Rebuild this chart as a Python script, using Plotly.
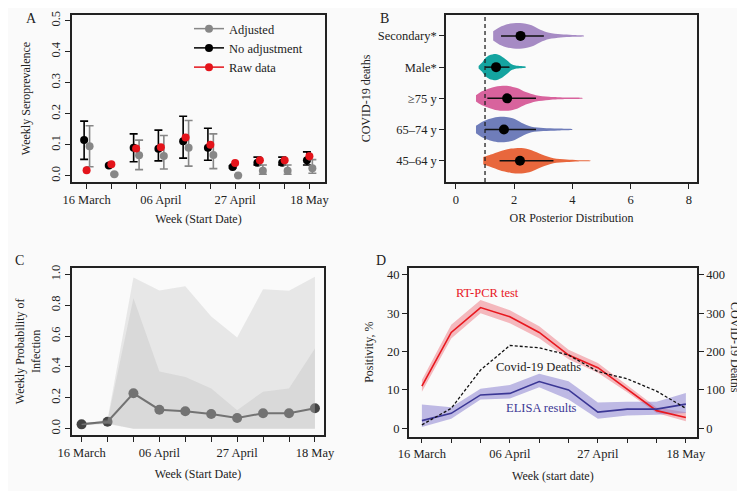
import plotly.graph_objects as go

# the page adds an 8 px body margin, so the figure is drawn 8 px smaller
PAD = 8
W, H = 745 - PAD, 491 - PAD
FONT = "Liberation Serif, Times New Roman, serif"
INK = "#222222"

# ---- panel A: weekly seroprevalence ----
weeks = list(range(10))
week_ticks = ["16 March", "", "", "06 April", "", "", "27 April", "", "", "18 May"]

noadj = [0.115, 0.033, 0.090, 0.087, 0.111, 0.090, 0.028, 0.042, 0.042, 0.050]
noadj_hi = [0.176, 0.036, 0.135, 0.147, 0.192, 0.153, 0.032, 0.060, 0.060, 0.077]
noadj_lo = [0.053, 0.030, 0.045, 0.048, 0.057, 0.050, 0.025, 0.035, 0.035, 0.035]

adj = [0.095, 0.005, 0.066, 0.064, 0.090, 0.067, 0.001, 0.016, 0.016, 0.024]
adj_hi = [0.161, 0.008, 0.115, 0.130, 0.178, 0.135, 0.003, 0.035, 0.035, 0.052]
adj_lo = [0.029, 0.003, 0.020, 0.022, 0.031, 0.023, 0.000, 0.005, 0.005, 0.008]

raw = [0.018, 0.037, 0.088, 0.092, 0.123, 0.100, 0.041, 0.050, 0.050, 0.063]

# ---- panel B: OR posterior distributions ----
groups = ["45–64 y", "65–74 y", "≥75 y", "Male*", "Secondary*"]
group_colors = ["#e8673d", "#6f7dba", "#d8639d", "#14a4a0", "#a68bc4"]
or_median = [2.20, 1.65, 1.76, 1.38, 2.22]
or_lo = [1.50, 1.00, 1.08, 1.00, 1.55]
or_hi = [3.35, 2.75, 2.75, 1.84, 3.02]
# density profiles (OR value, half width)
dens_x = [
    [0.94, 1.2, 1.5, 1.9, 2.25, 2.6, 2.95, 3.35, 3.8, 4.2, 4.62],
    [0.69, 0.85, 1.05, 1.3, 1.6, 1.95, 2.25, 2.6, 3.0, 3.5, 4.0],
    [0.69, 0.85, 1.05, 1.35, 1.75, 2.1, 2.4, 2.75, 3.2, 3.8, 4.35],
    [0.78, 0.9, 1.0, 1.15, 1.37, 1.55, 1.75, 1.9, 2.05, 2.4],
    [1.28, 1.5, 1.8, 2.2, 2.6, 2.9, 3.2, 3.6, 4.0, 4.4],
]
dens_w = [
    [0.12, 0.20, 0.30, 0.39, 0.41, 0.34, 0.20, 0.08, 0.04, 0.02, 0.008],
    [0.12, 0.22, 0.31, 0.38, 0.41, 0.36, 0.22, 0.09, 0.05, 0.03, 0.008],
    [0.10, 0.20, 0.28, 0.37, 0.40, 0.33, 0.20, 0.10, 0.05, 0.025, 0.008],
    [0.04, 0.15, 0.28, 0.38, 0.42, 0.36, 0.22, 0.10, 0.05, 0.012],
    [0.15, 0.28, 0.38, 0.41, 0.34, 0.20, 0.10, 0.05, 0.03, 0.008],
]

# ---- panel C: weekly probability of infection ----
prob = [0.028, 0.045, 0.229, 0.123, 0.113, 0.095, 0.069, 0.100, 0.100, 0.132]
outer_hi = [0.032, 0.060, 0.980, 0.895, 0.922, 0.726, 0.590, 0.903, 0.893, 0.985]
outer_lo = [0.022, 0.030, 0.0, 0.0, 0.0, 0.0, 0.0, 0.0, 0.0, 0.0]
inner_hi = [0.030, 0.050, 0.845, 0.370, 0.335, 0.260, 0.120, 0.240, 0.260, 0.520]
inner_lo = [0.024, 0.035, 0.0, 0.0, 0.0, 0.0, 0.0, 0.0, 0.0, 0.0]

# ---- panel D: positivity and deaths ----
pcr = [11.0, 25.0, 31.5, 29.1, 25.0, 19.1, 15.8, 10.2, 4.6, 2.8]
pcr_hi = [12.6, 27.0, 33.5, 30.8, 26.6, 20.5, 17.0, 11.1, 5.4, 4.2]
pcr_lo = [9.5, 23.4, 30.0, 27.4, 23.5, 18.0, 14.5, 9.4, 4.0, 1.8]
elisa = [2.0, 3.9, 8.7, 9.1, 12.2, 10.0, 4.2, 5.0, 5.0, 6.3]
elisa_hi = [6.2, 5.5, 10.3, 11.3, 14.2, 12.3, 6.7, 6.9, 6.9, 9.2]
elisa_lo = [0.3, 2.5, 7.5, 7.8, 10.7, 7.5, 2.5, 3.3, 3.5, 4.0]
deaths = [9, 52, 152, 216, 210, 191, 148, 129, 97, 52]


def px(x):
    return (x - PAD) / W


def py(y):
    return 1 - (y - PAD) / H


def dx(a, b):
    return [px(a), px(b)]


def dy(top, bottom):
    return [py(bottom), py(top)]


fig = go.Figure()

# A
for name, vals, hi, lo, col, off in [
    ("No adjustment", noadj, noadj_hi, noadj_lo, "#000000", -0.1),
    ("Adjusted", adj, adj_hi, adj_lo, "#878787", 0.12),
]:
    fig.add_trace(go.Scatter(
        x=[w + off for w in weeks], y=vals, mode="markers",
        marker=dict(color=col, size=8),
        error_y=dict(type="data", array=[h - v for h, v in zip(hi, vals)],
                     arrayminus=[v - l for v, l in zip(vals, lo)],
                     color=col, thickness=1.6, width=4),
        showlegend=False, xaxis="x", yaxis="y",
    ))
fig.add_trace(go.Scatter(x=weeks, y=raw, mode="markers",
                         marker=dict(color="#e4141b", size=8),
                         showlegend=False, xaxis="x", yaxis="y"))
for name, col, rank in [("Adjusted", "#878787", 1), ("No adjustment", "#000000", 2),
                        ("Raw data", "#e4141b", 3)]:
    fig.add_trace(go.Scatter(x=[None], y=[None], mode="lines+markers", name=name,
                             line=dict(color=col, width=1.5), marker=dict(color=col, size=8),
                             legendrank=rank, xaxis="x", yaxis="y"))

# B
for i, g in enumerate(groups):
    xs = dens_x[i] + dens_x[i][::-1]
    ys = [i + w for w in dens_w[i]] + [i - w for w in dens_w[i][::-1]]
    fig.add_trace(go.Scatter(x=xs, y=ys, fill="toself", fillcolor=group_colors[i],
                             mode="lines", line=dict(width=0, shape="spline", smoothing=0.8),
                             showlegend=False, hoverinfo="skip", xaxis="x2", yaxis="y2"))
    fig.add_trace(go.Scatter(x=[or_lo[i], or_hi[i]], y=[i, i], mode="lines",
                             line=dict(color="#111111", width=1.5),
                             showlegend=False, xaxis="x2", yaxis="y2"))
fig.add_trace(go.Scatter(x=or_median, y=list(range(len(groups))), mode="markers",
                         marker=dict(color="#000000", size=10),
                         showlegend=False, xaxis="x2", yaxis="y2"))
fig.add_shape(type="line", x0=1, x1=1, y0=0, y1=1, xref="x2", yref="y2 domain",
              line=dict(color="#222222", width=1.3, dash="4px,3px"))

# C
fig.add_trace(go.Scatter(x=weeks, y=prob, mode="lines+markers",
                         line=dict(color="#444444", width=2), marker=dict(color="#444444", size=10),
                         showlegend=False, xaxis="x3", yaxis="y3"))
for hi, lo in [(outer_hi, outer_lo), (inner_hi, inner_lo)]:
    fig.add_trace(go.Scatter(x=weeks + weeks[::-1], y=hi + lo[::-1], fill="toself",
                             fillcolor="rgba(175,175,175,0.25)", mode="lines", line=dict(width=0),
                             showlegend=False, hoverinfo="skip", xaxis="x3", yaxis="y3"))

# D
for hi, lo, fc in [(pcr_hi, pcr_lo, "rgba(232,60,75,0.35)"), (elisa_hi, elisa_lo, "rgba(130,120,205,0.5)")]:
    fig.add_trace(go.Scatter(x=weeks + weeks[::-1], y=hi + lo[::-1], fill="toself",
                             fillcolor=fc, mode="lines", line=dict(width=0),
                             showlegend=False, hoverinfo="skip", xaxis="x4", yaxis="y4"))
fig.add_trace(go.Scatter(x=weeks, y=pcr, mode="lines", line=dict(color="#e8181f", width=1.6),
                         showlegend=False, xaxis="x4", yaxis="y4"))
fig.add_trace(go.Scatter(x=weeks, y=elisa, mode="lines", line=dict(color="#3b3795", width=1.6),
                         showlegend=False, xaxis="x4", yaxis="y4"))
fig.add_trace(go.Scatter(x=weeks, y=deaths, mode="lines", line=dict(color="#111111", width=1.3, dash="3px,2px"),
                         showlegend=False, xaxis="x4", yaxis="y5"))

ax = dict(showline=True, mirror=True, linecolor=INK, linewidth=1.5, ticks="outside",
          ticklen=5, tickwidth=1, tickcolor=INK, showgrid=False, zeroline=False, automargin=False,
          tickfont=dict(size=12.5, color=INK), title_font=dict(size=12, color=INK))
wk = dict(tickmode="array", tickvals=weeks, ticktext=week_ticks)

fig.update_layout(
    width=W, height=H, margin=dict(l=0, r=0, t=0, b=0),
    paper_bgcolor="#fafafa", plot_bgcolor="#fafafa",
    font=dict(family=FONT, size=12, color=INK),
    xaxis=dict(ax, **wk, domain=dx(72, 325), range=[-0.59, 9.63], anchor="y",
               title=dict(text="Week (Start Date)", standoff=9)),
    yaxis=dict(ax, domain=dy(15, 182), range=[-0.02, 0.518], anchor="x",
               tickvals=[0, 0.1, 0.2, 0.3, 0.4, 0.5], tickformat=".1f", tickangle=-90,
               title=dict(text="Weekly Seroprevalence", standoff=16)),
    xaxis2=dict(ax, domain=dx(446, 697), range=[-0.34, 8.28], anchor="y2",
                tickvals=[0, 2, 4, 6, 8], title=dict(text="OR Posterior Distribution", standoff=8)),
    yaxis2=dict(ax, domain=dy(15, 182), range=[-0.68, 4.67], anchor="x2",
                tickvals=list(range(len(groups))), ticktext=groups,
                title=dict(text="COVID-19 deaths", standoff=5)),
    xaxis3=dict(ax, **wk, domain=dx(72, 324), range=[-0.37, 9.35], anchor="y3",
                title=dict(text="Week (Start Date)", standoff=11)),
    yaxis3=dict(ax, domain=dy(267.7, 435), range=[-0.041, 1.043], anchor="x3",
                tickvals=[0, 0.2, 0.4, 0.6, 0.8, 1.0], tickformat=".1f", tickangle=-90,
                title=dict(text="Weekly Probability of<br>Infection", standoff=6)),
    xaxis4=dict(ax, **wk, domain=dx(408.7, 697), range=[-0.45, 9.38], anchor="y4",
                title=dict(text="Week (start date)", standoff=11)),
    yaxis4=dict(ax, domain=dy(267.7, 436.7), range=[-2.2, 41.9], anchor="x4", mirror=False,
                tickvals=[0, 10, 20, 30, 40], title=dict(text="Positivity, %", standoff=11)),
    yaxis5=dict(ax, overlaying="y4", side="right", anchor="x4", range=[-22, 419], mirror=False,
                tickvals=[0, 100, 200, 300, 400]),
    legend=dict(x=px(189), y=py(14), xanchor="left", yanchor="top",
                bgcolor="rgba(0,0,0,0)", font=dict(size=12.5), tracegroupgap=0),
)


def label(txt, x, y, col=INK, size=12.5, angle=0, yanchor="middle"):
    fig.add_annotation(text=txt, x=px(x), y=py(y), xref="paper", yref="paper",
                       xanchor="center", yanchor=yanchor, showarrow=False,
                       textangle=angle, font=dict(size=size, color=col))


# top letters sit against the upper edge of the page
label("A", 32, 8.5, size=14, yanchor="top")
label("B", 384, 8.5, size=14, yanchor="top")
label("C", 19, 260, size=14)
label("D", 381, 260, size=14)
label("RT-PCR test", 487, 293, "#e8181f")
label("Covid-19 Deaths", 538, 367)
label("ELISA results", 541, 408, "#3b3795")
# right-hand axis title reads top to bottom
label("COVID-19 Deaths", 735, 347, size=12, angle=90)

fig.write_html("out.html")
